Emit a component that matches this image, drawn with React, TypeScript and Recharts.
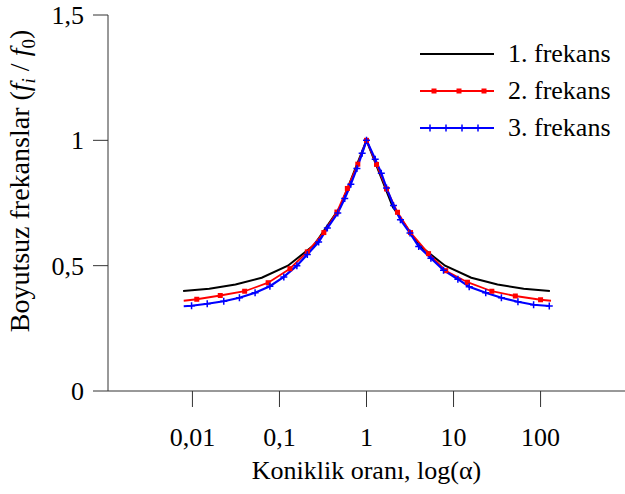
import React from 'react';
import { LineChart, Line, XAxis, YAxis } from 'recharts';

const FONT = "'Liberation Serif', 'Times New Roman', serif";
const AXIS_COLOR = '#333';
const FS = 26;

// x is log10(alpha)
const xTicks = [-2, -1, 0, 1, 2];
const xTickLabels = ['0,01', '0,1', '1', '10', '100'];
const yTicks = [0, 0.5, 1, 1.5];
const yTickLabels = ['0', '0,5', '1', '1,5'];

const seriesNames = ['1. frekans', '2. frekans', '3. frekans'];
const seriesColors = ['#000000', '#ff0000', '#0000ff'];

const f1LogAlpha = [-2.107, -1.806, -1.505, -1.204, -0.903, -0.602, -0.301, 0, 0.301, 0.602, 0.903, 1.204, 1.505, 1.806, 2.107];
const f1Values = [0.399, 0.408, 0.425, 0.452, 0.5, 0.582, 0.735, 1, 0.735, 0.582, 0.5, 0.452, 0.425, 0.408, 0.399];

const f2LogAlpha = [-2.1, -1.95, -1.68, -1.4, -1.13, -0.88, -0.68, -0.49, -0.34, -0.22, -0.1, 0, 0.115, 0.23, 0.356, 0.506, 0.713, 0.91, 1.16, 1.44, 1.71, 2.0, 2.12];
const f2Values = [0.36, 0.366, 0.381, 0.398, 0.432, 0.488, 0.555, 0.632, 0.714, 0.808, 0.905, 1, 0.904, 0.806, 0.713, 0.632, 0.548, 0.48, 0.434, 0.398, 0.379, 0.364, 0.36];

const f3LogAlpha = [-2.1, -2.01, -1.83, -1.64, -1.46, -1.28, -1.11, -0.95, -0.8, -0.68, -0.55, -0.45, -0.33, -0.25, -0.18, -0.11, -0.05, 0, 0.1, 0.17, 0.23, 0.31, 0.39, 0.5, 0.6, 0.74, 0.885, 1.05, 1.18, 1.37, 1.55, 1.74, 1.92, 2.1];
const f3Values = [0.338, 0.34, 0.348, 0.358, 0.372, 0.392, 0.418, 0.455, 0.5, 0.545, 0.594, 0.65, 0.71, 0.768, 0.825, 0.888, 0.948, 1, 0.925, 0.869, 0.81, 0.74, 0.683, 0.63, 0.576, 0.53, 0.482, 0.446, 0.416, 0.392, 0.372, 0.356, 0.344, 0.339];

const toPoints = (xs: number[], ys: number[]) => xs.map((x, i) => ({ x, y: ys[i] }));
const f1Data = toPoints(f1LogAlpha, f1Values);
const f2Data = toPoints(f2LogAlpha, f2Values);
const f3Data = toPoints(f3LogAlpha, f3Values);

const SquareDot = (props: any) => {
  const { cx, cy, index } = props;
  if (index === 0 || index === f2Data.length - 1) return <g key={`s${index}`} />;
  return <rect key={`s${index}`} x={cx - 2.5} y={cy - 2.5} width={5} height={5} fill="#ff0000" />;
};

const PlusDot = (props: any) => {
  const { cx, cy, index } = props;
  if (index === 0) return <g key={`p${index}`} />;
  return (
    <path
      key={`p${index}`}
      d={`M${cx - 3.5},${cy}h7M${cx},${cy - 3.5}v7`}
      stroke="#0000ff"
      strokeWidth={1.5}
      fill="none"
    />
  );
};

const YTick = (props: any) => {
  const { x, y, payload } = props;
  const label = yTickLabels[yTicks.indexOf(payload.value)];
  return (
    <text x={x} y={y + 9} textAnchor="end" fontSize={FS} fontFamily={FONT} fill="#000">
      {label}
    </text>
  );
};

const YLabel = (props: any) => {
  const vb = props.viewBox;
  const x = vb.x + 29;
  const y = vb.y + vb.height / 2 - 22;
  return (
    <text
      x={x}
      y={y}
      transform={`rotate(-90, ${x}, ${y})`}
      textAnchor="middle"
      fontSize={28}
      fontFamily={FONT}
      fill="#000"
    >
      Boyutsuz frekanslar (<tspan fontStyle="italic">f</tspan>
      <tspan fontStyle="italic" fontSize={19} dy={6}>i</tspan>
      <tspan dy={-6}> / </tspan>
      <tspan fontStyle="italic">f</tspan>
      <tspan fontSize={19} dy={6}>0</tspan>
      <tspan dy={-6}>)</tspan>
    </text>
  );
};

const ChartLegend = () => (
  <div
    style={{
      position: 'absolute',
      top: 35,
      left: 418,
      fontFamily: FONT,
      fontSize: FS,
      color: '#000',
    }}
  >
    {seriesNames.map((name, i) => (
      <div key={name} style={{ display: 'flex', alignItems: 'center', height: 37 }}>
        <svg width={78} height={20}>
          <line x1={2} y1={10} x2={76} y2={10} stroke={seriesColors[i]} strokeWidth={2} />
          {i === 1 &&
            [16, 41, 66].map((cx) => (
              <rect key={cx} x={cx - 2.5} y={7.5} width={5} height={5} fill="#ff0000" />
            ))}
          {i === 2 &&
            [12, 28, 44, 60].map((cx) => (
              <path key={cx} d={`M${cx},6.5v7`} stroke="#0000ff" strokeWidth={1.5} />
            ))}
        </svg>
        <span style={{ marginLeft: 12, whiteSpace: 'nowrap' }}>{name}</span>
      </div>
    ))}
  </div>
);

export default function App() {
  return (
    <div style={{ position: 'absolute', left: 0, top: 0, width: 625, height: 494 }}>
      <LineChart width={625} height={494} margin={{ top: 15, right: 0, bottom: 0, left: 0 }}>
        <XAxis
          type="number"
          dataKey="x"
          domain={[-2.97, 2.97]}
          ticks={xTicks}
          allowDataOverflow
          height={103}
          tickSize={16}
          tickMargin={21}
          tickFormatter={(v: number) => xTickLabels[xTicks.indexOf(v)]}
          tick={{ fontSize: FS, fontFamily: FONT, fill: '#000' }}
          axisLine={{ stroke: AXIS_COLOR }}
          tickLine={{ stroke: AXIS_COLOR }}
          label={{
            value: 'Koniklik oranı, log(α)',
            position: 'insideBottom',
            offset: 15,
            fontSize: FS,
            fontFamily: FONT,
            fill: '#000',
          }}
        />
        <YAxis
          type="number"
          domain={[0, 1.5]}
          ticks={yTicks}
          width={108}
          tickSize={15}
          tickMargin={9}
          tick={<YTick />}
          axisLine={{ stroke: AXIS_COLOR }}
          tickLine={{ stroke: AXIS_COLOR }}
          label={{ content: <YLabel /> }}
        />
        <Line
          data={f1Data}
          dataKey="y"
          name={seriesNames[0]}
          type="linear"
          stroke={seriesColors[0]}
          strokeWidth={2}
          dot={false}
          isAnimationActive={false}
        />
        <Line
          data={f2Data}
          dataKey="y"
          name={seriesNames[1]}
          type="linear"
          stroke={seriesColors[1]}
          strokeWidth={1.8}
          dot={SquareDot}
          activeDot={false}
          isAnimationActive={false}
        />
        <Line
          data={f3Data}
          dataKey="y"
          name={seriesNames[2]}
          type="linear"
          stroke={seriesColors[2]}
          strokeWidth={2.2}
          dot={PlusDot}
          activeDot={false}
          isAnimationActive={false}
        />
      </LineChart>
      <ChartLegend />
    </div>
  );
}
